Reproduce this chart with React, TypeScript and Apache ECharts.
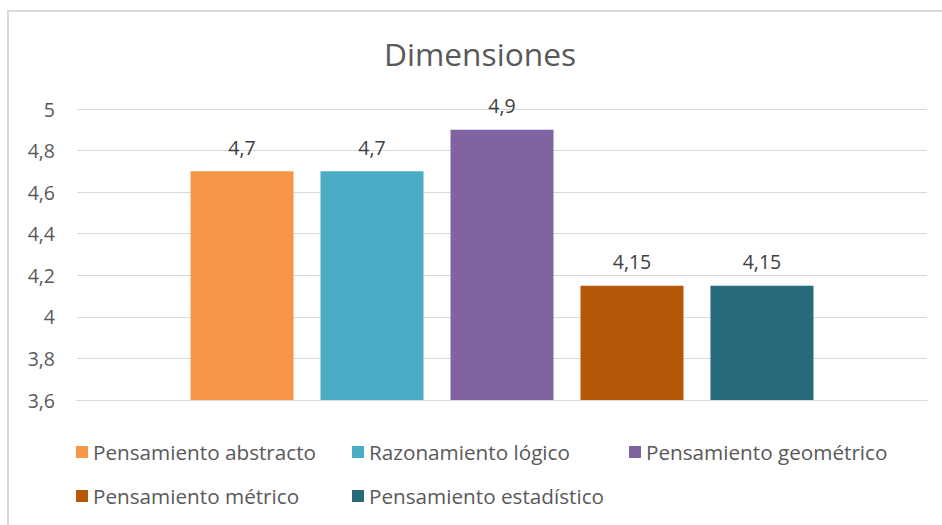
import React, { useEffect, useRef } from "react";
import * as echarts from "echarts";

const categories = ["Dimensiones"];
const seriesNames = [
  "Pensamiento abstracto",
  "Razonamiento lógico",
  "Pensamiento geométrico",
  "Pensamiento métrico",
  "Pensamiento estadístico",
];
const seriesValues = [4.7, 4.7, 4.9, 4.15, 4.15];
const seriesColors = ["#F79646", "#4BACC6", "#8064A2", "#B65708", "#276A7C"];
const yTicks = { min: 3.6, max: 5, interval: 0.2 };

const FONT = "Open Sans";

const fmt = (v: number) => String(Math.round(v * 100) / 100).replace(".", ",");

export default function App() {
  const ref = useRef<HTMLDivElement>(null);
  useEffect(() => {
    if (!ref.current) return;
    const chart = echarts.init(ref.current, undefined, { renderer: "svg" });
    const legendText = { color: "#595959", fontSize: 20.7, fontFamily: FONT, lineHeight: 22 };
    const mkLegend = (names: string[], left: number) => ({
      data: names,
      left,
      top: 441,
      orient: "vertical",
      padding: 0,
      itemWidth: 12,
      itemHeight: 12,
      itemGap: 22,
      icon: "rect",
      textStyle: legendText,
    });
    chart.setOption({
      animation: false,
      backgroundColor: "#ffffff",
      title: {
        text: "Dimensiones",
        left: 384,
        top: 37,
        padding: 0,
        textStyle: { color: "#595959", fontSize: 31.7, fontWeight: "normal", fontFamily: FONT },
      },
      graphic: [
        {
          type: "rect",
          shape: { x: 8, y: 11, width: 1000, height: 600 },
          style: { fill: "none", stroke: "#d9d9d9", lineWidth: 2 },
          silent: true,
        },
      ],
      legend: [
        mkLegend([seriesNames[0], seriesNames[3]], 76),
        mkLegend([seriesNames[1], seriesNames[4]], 352),
        mkLegend([seriesNames[2]], 629),
      ],
      grid: { left: 77, right: 15, top: 109, bottom: 125, containLabel: false },
      xAxis: {
        type: "category",
        data: categories,
        axisLine: { show: true, lineStyle: { color: "#d9d9d9", width: 1 } },
        axisTick: { show: false },
        axisLabel: { show: false },
      },
      yAxis: {
        type: "value",
        min: yTicks.min,
        max: yTicks.max,
        interval: yTicks.interval,
        axisLine: { show: false },
        axisTick: { show: false },
        splitLine: { lineStyle: { color: "#d9d9d9", width: 1 } },
        axisLabel: {
          color: "#595959",
          fontSize: 19.5,
          fontFamily: FONT,
          margin: 22,
          formatter: (v: number) => fmt(v),
        },
      },
      series: seriesNames.map((name, i) => ({
        name,
        type: "bar",
        data: [seriesValues[i]],
        barWidth: 103,
        barGap: "26.2%",
        itemStyle: { color: seriesColors[i] },
        label: {
          show: true,
          position: "top",
          distance: 14,
          color: "#404040",
          fontSize: 19.5,
          fontFamily: FONT,
          formatter: (p: any) => fmt(p.value),
        },
      })),
    });
    return () => chart.dispose();
  }, []);
  return (
    <div
      ref={ref}
      style={{ position: "fixed", left: 0, top: 0, width: 942, height: 525, background: "#fff" }}
    />
  );
}
